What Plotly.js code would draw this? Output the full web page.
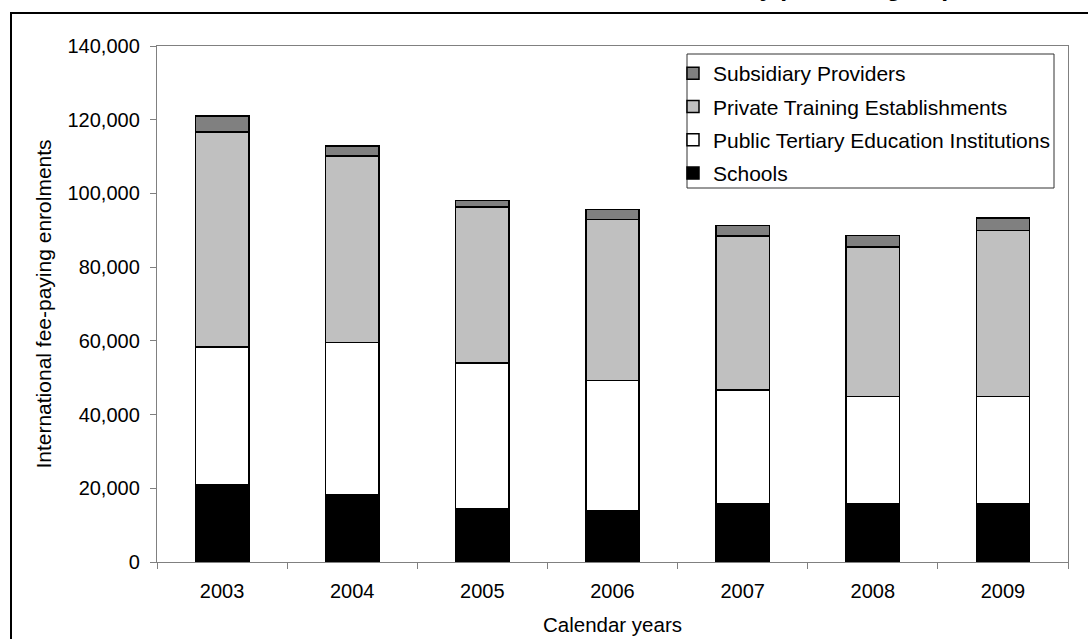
<!DOCTYPE html>
<html>
<head>
<meta charset="utf-8">
<script src="https://cdn.plot.ly/plotly-3.0.1.min.js"></script>
<style>
html,body{margin:0;padding:0;background:#fff;}
#chart{width:1088px;height:639px;}
</style>
</head>
<body>
<div id="chart"></div>
<script>
const years = ['2003','2004','2005','2006','2007','2008','2009'];
const schools = [21000, 18300, 14400, 13950, 15800, 15800, 15800];
const publicTEI = [37300, 41300, 39600, 35350, 30900, 29100, 29100];
const privateTE = [58400, 50600, 42300, 43600, 41800, 40600, 45000];
const subsidiary = [4300, 2700, 1800, 2700, 2750, 3100, 3400];
const seriesNames = ['Schools', 'Public Tertiary Education Institutions', 'Private Training Establishments', 'Subsidiary Providers'];
const yTickVals = [0, 20000, 40000, 60000, 80000, 100000, 120000, 140000];
const yTickText = ['0', '20,000', '40,000', '60,000', '80,000', '100,000', '120,000', '140,000'];
const titleText = 'Chart 1: Enrolments of international students in New Zealand, by provider group';

const FONT = 'Liberation Sans, Arial, sans-serif';
const fills = ['#000000', '#ffffff', '#c0c0c0', '#808080'];
const data = [schools, publicTEI, privateTE, subsidiary].map((vals, i) => ({
  type: 'bar',
  name: seriesNames[i],
  legendgroup: 'g' + i,
  legendrank: 1000 - i,
  x: years,
  y: vals,
  marker: {color: fills[i], line: {color: '#000000', width: 1.5}},
  hoverinfo: 'skip'
}));

const px = v => (v - 157) / 911;
const py = v => (562 - v) / 516;

const layout = {
  width: 1088, height: 639,
  margin: {l: 157, r: 20, t: 46, b: 77, pad: 0},
  paper_bgcolor: '#ffffff',
  plot_bgcolor: '#ffffff',
  barmode: 'stack',
  bargap: 0.59,
  showlegend: true,
  font: {family: FONT, size: 20, color: '#000000'},
  xaxis: {
    type: 'category',
    showline: true, linecolor: '#808080', linewidth: 1.2, mirror: true,
    ticks: 'outside', ticklen: 6, tickcolor: '#808080',
    tickson: 'boundaries',
    ticklabelstandoff: 11,
    showgrid: false, zeroline: false,
    tickfont: {family: FONT, size: 20, color: '#000'},
    title: {text: 'Calendar years', font: {family: FONT, size: 20.5, color: '#000'}, standoff: 16},
    fixedrange: true
  },
  yaxis: {
    range: [0, 140000],
    tickvals: yTickVals, ticktext: yTickText,
    showline: true, linecolor: '#808080', linewidth: 1.2, mirror: true,
    ticks: 'outside', ticklen: 6, tickcolor: '#808080',
    ticklabelstandoff: 6,
    showgrid: false, zeroline: false,
    tickfont: {family: FONT, size: 20, color: '#000'},
    title: {text: 'International fee-paying enrolments', font: {family: FONT, size: 21, color: '#000'}, standoff: 10},
    fixedrange: true
  },
  legend: {
    x: px(673), y: py(53), xanchor: 'left', yanchor: 'top',
    traceorder: 'grouped',
    bgcolor: 'rgba(0,0,0,0)', bordercolor: '#333333', borderwidth: 0,
    font: {family: FONT, size: 21, color: '#000'},
    itemwidth: 30,
    tracegroupgap: 3
  },
  shapes: [{
    type: 'rect', xref: 'paper', yref: 'paper', layer: 'above',
    x0: px(11), x1: px(1095),
    y0: py(650), y1: py(13),
    line: {color: '#000000', width: 2}, fillcolor: 'rgba(0,0,0,0)'
  }, {
    type: 'rect', xref: 'paper', yref: 'paper', layer: 'below',
    x0: px(687), x1: px(1054),
    y0: py(188), y1: py(54),
    line: {color: '#333333', width: 1}, fillcolor: '#ffffff'
  }],
  annotations: [{
    xref: 'paper', yref: 'paper', x: px(8), y: py(-12.5),
    xanchor: 'left', yanchor: 'middle', showarrow: false,
    text: '<b>' + titleText + '</b>',
    font: {family: FONT, size: 24.8, color: '#000'}
  }]
};

Plotly.newPlot('chart', data, layout, {displayModeBar: false, staticPlot: true});
</script>
</body>
</html>
